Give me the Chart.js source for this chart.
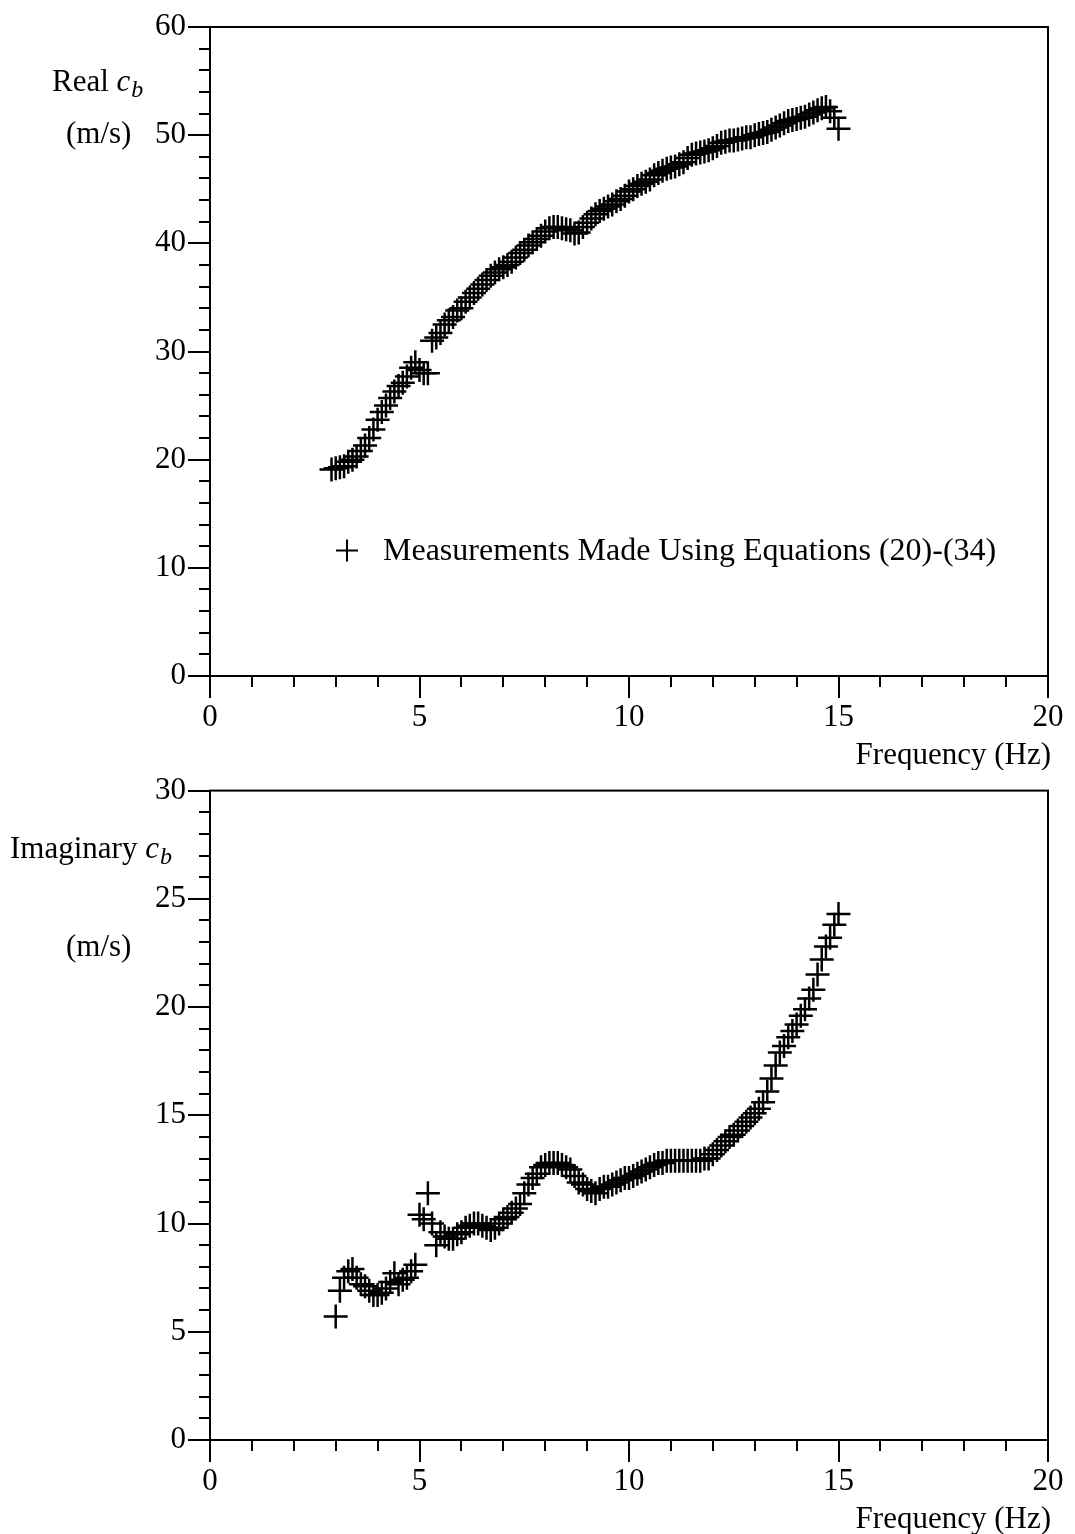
<!DOCTYPE html>
<html>
<head>
<meta charset="utf-8">
<script src="https://cdn.jsdelivr.net/npm/chart.js@4.4.1/dist/chart.umd.min.js"></script>
<style>
  body { margin: 0; background: #fff; width: 1075px; height: 1534px; overflow: hidden; }
  canvas { position: absolute; left: 0; }
  #realChart { top: 0; }
  #imagChart { top: 770px; }
</style>
</head>
<body>
<canvas id="realChart" width="1075" height="770"></canvas>
<canvas id="imagChart" width="1075" height="764"></canvas>
<script>
// frequency (Hz) of each measurement, same for both plots
const freqs = [
  2.9, 3.0, 3.1, 3.2, 3.3, 3.4, 3.5, 3.6, 3.7, 3.8, 3.9,
  4.0, 4.1, 4.2, 4.3, 4.4, 4.5, 4.6, 4.7, 4.8, 4.9,
  5.0, 5.1, 5.2, 5.3, 5.4, 5.5, 5.6, 5.7, 5.8, 5.9,
  6.0, 6.1, 6.2, 6.3, 6.4, 6.5, 6.6, 6.7, 6.8, 6.9,
  7.0, 7.1, 7.2, 7.3, 7.4, 7.5, 7.6, 7.7, 7.8, 7.9,
  8.0, 8.1, 8.2, 8.3, 8.4, 8.5, 8.6, 8.7, 8.8, 8.9,
  9.0, 9.1, 9.2, 9.3, 9.4, 9.5, 9.6, 9.7, 9.8, 9.9,
  10.0, 10.1, 10.2, 10.3, 10.4, 10.5, 10.6, 10.7, 10.8, 10.9,
  11.0, 11.1, 11.2, 11.3, 11.4, 11.5, 11.6, 11.7, 11.8, 11.9,
  12.0, 12.1, 12.2, 12.3, 12.4, 12.5, 12.6, 12.7, 12.8, 12.9,
  13.0, 13.1, 13.2, 13.3, 13.4, 13.5, 13.6, 13.7, 13.8, 13.9,
  14.0, 14.1, 14.2, 14.3, 14.4, 14.5, 14.6, 14.7, 14.8, 14.9,
  15.0
];

// Real c_b (m/s)
const realCb = [
  19.1, 19.2, 19.3, 19.4, 19.8, 20.0, 20.3, 20.8, 21.3, 22.0, 22.8,
  23.7, 24.4, 25.0, 25.7, 26.3, 26.8, 27.1, 27.7, 28.5, 29.0,
  28.3, 28.0, 28.0, 31.0, 31.3, 31.7, 32.5, 32.9, 33.2, 33.8,
  34.0, 34.6, 35.0, 35.4, 35.8, 36.2, 36.6, 37.0, 37.3, 37.6,
  37.8, 38.0, 38.3, 38.7, 39.1, 39.4, 39.8, 40.1, 40.4, 40.7,
  41.1, 41.4, 41.5, 41.5, 41.4, 41.3, 41.2, 40.9, 41.0, 41.5,
  41.9, 42.3, 42.7, 43.0, 43.2, 43.4, 43.6, 43.9, 44.1, 44.4,
  44.8, 45.0, 45.3, 45.5, 45.7, 45.9, 46.3, 46.5, 46.7, 46.9,
  47.0, 47.1, 47.3, 47.5, 47.9, 48.2, 48.3, 48.4, 48.5, 48.6,
  48.8, 49.0, 49.3, 49.4, 49.5, 49.5, 49.6, 49.7, 49.8, 49.8,
  50.0, 50.1, 50.2, 50.3, 50.5, 50.7, 50.9, 51.1, 51.3, 51.4,
  51.5, 51.6, 51.7, 51.9, 52.1, 52.3, 52.5, 52.6, 52.2, 51.6,
  50.6
];

// Imaginary c_b (m/s), no value at 2.9 Hz
const imagCb = [
  null, 5.7, 6.9, 7.5, 7.8, 7.9, 7.5, 7.2, 7.1, 6.9, 6.7,
  6.7, 6.8, 7.0, 7.3, 7.7, 7.2, 7.4, 7.5, 7.8, 8.1,
  10.4, 10.2, 11.4, 10.0, 9.0, 9.6, 9.4, 9.3, 9.3, 9.5,
  9.6, 9.8, 9.9, 10.0, 10.0, 9.9, 9.8, 9.7, 9.8, 10.0,
  10.2, 10.3, 10.5, 10.7, 10.9, 11.4, 11.8, 12.1, 12.3, 12.6,
  12.7, 12.8, 12.8, 12.8, 12.7, 12.6, 12.5, 12.2, 11.9, 11.8,
  11.6, 11.5, 11.4, 11.6, 11.7, 11.7, 11.8, 11.9, 12.0, 12.1,
  12.1, 12.2, 12.3, 12.4, 12.5, 12.6, 12.7, 12.8, 12.8, 12.9,
  12.9, 12.9, 12.9, 12.9, 12.9, 12.9, 12.9, 12.9, 13.0, 13.0,
  13.2, 13.4, 13.6, 13.8, 14.0, 14.1, 14.3, 14.5, 14.7, 14.9,
  15.1, 15.3, 15.6, 16.1, 16.7, 17.3, 17.9, 18.2, 18.6, 18.9,
  19.2, 19.6, 19.9, 20.4, 20.8, 21.5, 22.2, 22.8, 23.2, 23.8,
  24.3
];

const xTicks = [0, 5, 10, 15, 20];
const realTicks = [0, 10, 20, 30, 40, 50, 60];
const imagTicks = [0, 5, 10, 15, 20, 25, 30];
const xMinorStep = 1;
const realMinorStep = 2;
const imagMinorStep = 1;

const legendText = "Measurements Made Using Equations (20)-(34)";
const xTitle = "Frequency (Hz)";

const FONT = "'Liberation Serif', 'Times New Roman', serif";
const TXT = 31;

function toPoints(xs, ys) {
  const pts = [];
  for (let i = 0; i < xs.length; i++) {
    if (ys[i] !== null) pts.push({ x: xs[i], y: ys[i] });
  }
  return pts;
}

// minor ticks, frame box, axis captions and legend
function decorPlugin(cfg) {
  return {
    id: 'decor',
    afterDraw(chart) {
      const ctx = chart.ctx;
      const a = chart.chartArea;
      const xs = chart.scales.x, ys = chart.scales.y;
      ctx.save();
      ctx.strokeStyle = '#000';
      ctx.lineWidth = 2;
      ctx.strokeRect(a.left, a.top, a.right - a.left, a.bottom - a.top);

      ctx.beginPath();
      for (let v = xs.min; v <= xs.max; v += xMinorStep) {
        if (xTicks.includes(v)) continue;
        const px = Math.round(xs.getPixelForValue(v));
        ctx.moveTo(px, a.bottom);
        ctx.lineTo(px, a.bottom + 11);
      }
      for (let v = ys.min; v <= ys.max; v += cfg.minorStep) {
        if (cfg.majors.includes(v)) continue;
        const py = Math.round(ys.getPixelForValue(v));
        ctx.moveTo(a.left, py);
        ctx.lineTo(a.left - 11, py);
      }
      ctx.stroke();

      ctx.fillStyle = '#000';
      ctx.textBaseline = 'alphabetic';
      // x title
      ctx.font = TXT + 'px ' + FONT;
      ctx.textAlign = 'right';
      ctx.fillText(xTitle, a.right + 3, a.bottom + 88);

      // y caption: name + italic c with subscript b
      ctx.textAlign = 'left';
      let x = cfg.capX;
      ctx.font = TXT + 'px ' + FONT;
      ctx.fillText(cfg.name + ' ', x, cfg.capY);
      x += ctx.measureText(cfg.name + ' ').width;
      ctx.font = 'italic ' + TXT + 'px ' + FONT;
      ctx.fillText('c', x, cfg.capY);
      x += ctx.measureText('c').width + 1;
      ctx.font = 'italic 24px ' + FONT;
      ctx.fillText('b', x, cfg.capY + 6);
      ctx.font = TXT + 'px ' + FONT;
      ctx.fillText('(m/s)', 66, cfg.unitY);

      if (cfg.legend) {
        const lx = xs.getPixelForValue(3.27);
        const ly = ys.getPixelForValue(11.6);
        ctx.lineWidth = 2;
        ctx.beginPath();
        ctx.moveTo(lx - 11, ly); ctx.lineTo(lx + 11, ly);
        ctx.moveTo(lx, ly - 11); ctx.lineTo(lx, ly + 11);
        ctx.stroke();
        ctx.font = '32px ' + FONT;
        ctx.textBaseline = 'middle';
        ctx.fillText(legendText, lx + 36, ly + 1);
      }
      ctx.restore();
    }
  };
}

function makeChart(id, ys, yTicks, cfg) {
  const yMax = yTicks[yTicks.length - 1];
  return new Chart(document.getElementById(id), {
    type: 'scatter',
    data: {
      datasets: [{
        data: toPoints(freqs, ys),
        pointStyle: 'cross',
        pointRadius: 12,
        pointBorderWidth: 2.5,
        borderColor: '#000',
        backgroundColor: '#000'
      }]
    },
    options: {
      responsive: false,
      animation: false,
      devicePixelRatio: 1,
      layout: { padding: { top: cfg.padTop, right: 27, left: 0, bottom: 0 } },
      plugins: { legend: { display: false }, tooltip: { enabled: false } },
      scales: {
        x: {
          type: 'linear', min: 0, max: 20,
          afterFit: s => { s.height = cfg.xHeight; },
          afterBuildTicks: s => { s.ticks = xTicks.map(v => ({ value: v })); },
          ticks: { color: '#000', font: { family: FONT, size: TXT }, padding: 1, maxRotation: 0 },
          grid: { drawOnChartArea: false, tickLength: 22, color: '#000', lineWidth: 2 },
          border: { display: true, color: '#000', width: 2 }
        },
        y: {
          type: 'linear', min: 0, max: yMax,
          afterFit: s => { s.width = 210; },
          afterBuildTicks: s => { s.ticks = yTicks.map(v => ({ value: v })); },
          ticks: { color: '#000', font: { family: FONT, size: TXT }, padding: 2 },
          grid: { drawOnChartArea: false, tickLength: 22, color: '#000', lineWidth: 2 },
          border: { display: true, color: '#000', width: 2 }
        }
      }
    },
    plugins: [decorPlugin(cfg)]
  });
}

makeChart('realChart', realCb, realTicks, {
  padTop: 27, xHeight: 94, minorStep: realMinorStep, majors: realTicks,
  name: 'Real', capX: 52, capY: 91, unitY: 143, legend: true
});
makeChart('imagChart', imagCb, imagTicks, {
  padTop: 20, xHeight: 94, minorStep: imagMinorStep, majors: imagTicks,
  name: 'Imaginary', capX: 10, capY: 88, unitY: 186, legend: false
});
</script>
</body>
</html>
